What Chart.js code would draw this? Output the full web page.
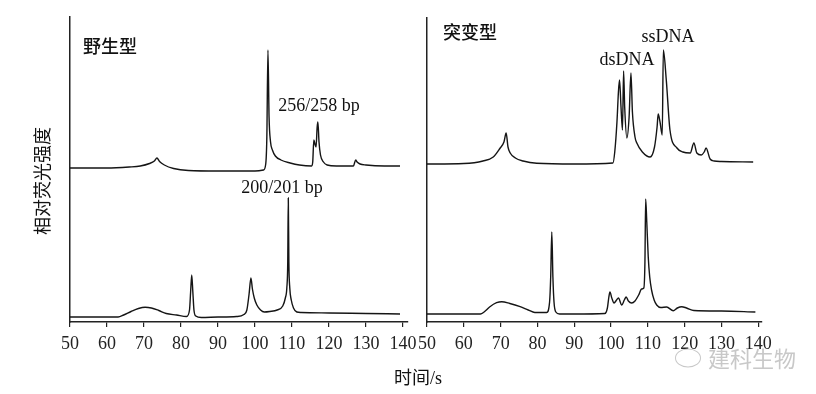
<!DOCTYPE html>
<html><head><meta charset="utf-8">
<script src="https://cdn.jsdelivr.net/npm/chart.js@4"></script>
<style>
body{margin:0;background:#fff;width:816px;height:394px;overflow:hidden;position:relative;font-family:'Liberation Serif',serif;}
canvas{position:absolute;top:0;}
.t{position:absolute;white-space:nowrap;color:#111;line-height:1;transform:translate(-50%,-50%);}
.cjk{font-family:'Noto Sans CJK SC',sans-serif;}
.serif{font-family:'Liberation Serif',serif;font-size:18px;}
</style></head><body>
<canvas id="c1" width="420" height="394" style="left:0"></canvas>
<canvas id="c2" width="406" height="394" style="left:410px"></canvas>

<div class="t cjk" style="left:110px;top:45px;font-size:18px;font-weight:500">野生型</div>
<div class="t cjk" style="left:470px;top:31px;font-size:18px;font-weight:500">突变型</div>
<div class="t serif" style="left:319px;top:105px">256/258 bp</div>
<div class="t serif" style="left:282px;top:187px">200/201 bp</div>
<div class="t serif" style="left:627px;top:59px">dsDNA</div>
<div class="t serif" style="left:668px;top:36px">ssDNA</div>
<div class="t" style="left:418px;top:377px;font-size:18px"><span class="cjk">时间</span><span class="serif">/s</span></div>
<div class="t cjk" style="left:41px;top:181px;font-size:18px;transform:translate(-50%,-50%) rotate(-90deg)">相对荧光强度</div>
<div class="t" style="left:688px;top:358px;width:24px;height:17px;border:1.5px solid #c8c8c8;border-radius:50%;"></div>
<div class="t cjk" style="left:752px;top:357px;font-size:22px;color:#c8c8c8">建科生物</div>

<script>
// x tick labels (time, s)
const xTicks = [50, 60, 70, 80, 90, 100, 110, 120, 130, 140];

// 野生型 (wild type) – upper trace
const wtUpperTime   = [50,60,66,69,71.5,72.8,73.5,74.2,75.5,78,82,90,100,102.3,102.9,103.2,103.5,103.8,104.2,104.7,105.5,107,109.5,112,115.3,115.6,115.9,116.2,116.5,116.8,117,117.3,117.7,118.5,119.5,122,126.6,127.2,127.6,128.4,130,135,139.2];
const wtUpperSignal = [154,154,155,156,158.5,161,164,160.5,157,153.5,151.5,151,151,152,158,185,272,205,180,172,166,162,159,157,156,160,182,178,175,195,200,180,167,160,157,156,156,162,160,158,157,156,156];

// 野生型 – lower trace
const wtLowerTime   = [50,63,64.5,66.5,68.5,70.3,72,74,76,78.8,81.5,82.3,82.6,82.9,83.2,83.5,84,85.5,90,95,97,97.8,98.4,98.9,99.3,99.8,100.5,101.5,102.5,104,106,107.5,108.2,108.6,108.85,109,109.15,109.4,109.8,110.4,111.3,112.5,120,130,139.2];
const wtLowerSignal = [5,5,7,10.5,13.5,14.7,14,11.5,8.5,7,5.5,12,30,47,30,12,6,4.5,5,5.5,7.5,12,28,44,33,24,17,12,10,10.5,12,16,24,34,60,124,60,34,22,14,10,9.5,9,8.5,8];

// 突变型 (mutant) – upper trace
const mutUpperTime   = [50,60,65.2,68,69.8,70.9,71.5,72,72.6,74,76.1,79.8,90,100.5,101,101.6,102,102.3,102.7,103.1,103.4,103.7,104.3,104.9,105.4,105.8,106.5,107,108.5,110.6,111.8,112.5,112.8,113.3,113.9,114.2,115,116,117.9,119.5,121.5,122.5,123.3,124.5,125.3,125.8,126.9,128,130,138.6];
const mutUpperSignal = [158,158.5,161,165,173.5,180,189,175,169,164,161,158.7,158,159,170,200,230,242,215,192,251,215,184,205,249,210,185,179,170,165,175,195,208,200,187,272,242,192,174,170,169,179,169,167,170,174,163,161,160.5,160];

// 突变型 – lower trace
const mutLowerTime   = [50,64.5,65.5,67,68.9,70.3,72.5,75.3,77.5,79.3,82.5,83.3,83.6,83.9,84.2,84.5,85,86,90,98.3,99,99.4,99.7,100.2,100.8,101.5,102,102.9,103.6,104.1,104.7,105.6,106.5,107.5,108.3,108.9,109.2,109.4,109.7,110.1,110.5,111,111.7,112.4,113.5,115.1,116.9,118,119.2,120.5,122.5,130,139.2];
const mutLowerSignal = [8,8,10,15,19.3,20.3,18.5,15.3,12,9.5,9.5,20,45,90,45,20,10,8,8,8.5,14,25,30,24,19,22,24,17,22,25,21,19,21,27,33,34,60,123,100,65,45,32,22,17,14.5,15,11.3,14,15.3,14,11.5,11,10];

function toPts(t, s) { return t.map((x, i) => ({x: x, y: s[i]})); }

function makePanel(id, traces, pad, xMax, yMax) {
  new Chart(document.getElementById(id), {
    type: 'line',
    data: {
      datasets: traces.map(tr => ({
        data: toPts(tr[0], tr[1]),
        borderColor: '#151515',
        borderWidth: 1.4,
        pointRadius: 0,
        fill: false,
        cubicInterpolationMode: 'monotone'
      }))
    },
    options: {
      responsive: false,
      animation: false,
      devicePixelRatio: 1,
      layout: { padding: pad },
      plugins: { legend: { display: false }, tooltip: { enabled: false } },
      scales: {
        x: {
          type: 'linear', min: 50, max: xMax,
          afterBuildTicks: s => { s.ticks = xTicks.map(v => ({value: v})); },
          afterFit: s => { s.height = 72; s.paddingLeft = 0; s.paddingRight = 0; },
          ticks: { color: '#222', font: { family: 'Liberation Serif', size: 18 }, padding: 6, autoSkip: false, maxRotation: 0 },
          grid: { drawOnChartArea: false, drawTicks: true, tickLength: 5, color: '#222', lineWidth: 1.2 },
          border: { display: true, color: '#222', width: 1.5 }
        },
        y: {
          type: 'linear', min: 0, max: yMax,
          afterFit: s => { s.width = 0; s.paddingTop = 0; s.paddingBottom = 0; },
          ticks: { display: false },
          grid: { drawOnChartArea: false, drawTicks: false },
          border: { display: true, color: '#222', width: 1.5 }
        }
      }
    }
  });
}

makePanel('c1', [[wtUpperTime, wtUpperSignal], [wtLowerTime, wtLowerSignal]],
  { left: 70, right: 12, top: 17, bottom: 0 }, 141.35, 305);
makePanel('c2', [[mutUpperTime, mutUpperSignal], [mutLowerTime, mutLowerSignal]],
  { left: 17, right: 54, top: 18, bottom: 0 }, 141.0, 304);
</script>
</body></html>
